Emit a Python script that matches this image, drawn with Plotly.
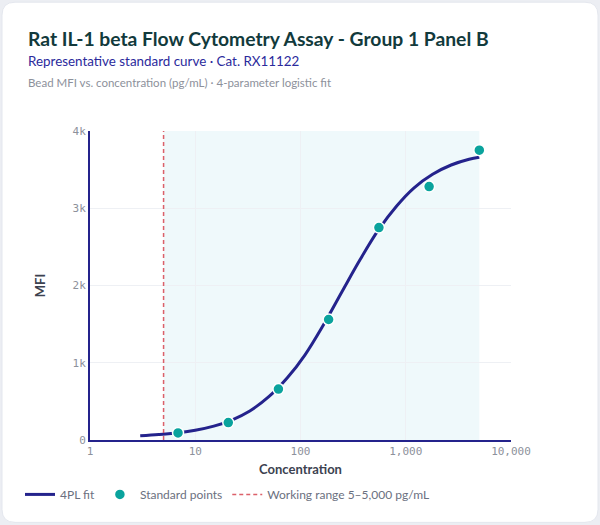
import plotly.graph_objects as go

# ---- data ----
std_conc = [6.86, 20.6, 61.7, 185, 556, 1667, 5000]
std_mfi = [92, 225, 660, 1560, 2750, 3280, 3752]

fit_conc = [3, 4.5, 7, 10, 15, 22, 33, 50, 75, 110, 165, 250, 370, 550, 820, 1200, 1800, 2700, 4000, 5000]
fit_mfi = [54, 70, 94, 126, 180, 255, 375, 560, 805, 1100, 1490, 1930, 2340, 2720, 3030, 3265, 3440, 3560, 3635, 3660]

range_low = 5
range_high = 5000

x_tickvals = [1, 10, 100, 1000, 10000]
x_ticktext = ["1", "10", "100", "1,000", "10,000"]
y_tickvals = [0, 1000, 2000, 3000, 4000]
y_ticktext = ["0", "1k", "2k", "3k", "4k"]

# ---- layout geometry ----
W, H = 600, 525
ML, MR, MT, MB = 90, 89, 131, 84.5
PW = W - ML - MR
PH = H - MT - MB


def px(xp):
    return (xp - ML) / PW


def py(yp):
    return (H - MB - yp) / PH


NAVY = "#24238c"
TEAL = "#0aa39d"
RED = "rgba(214,69,80,0.85)"

fig = go.Figure()

fig.add_trace(go.Scatter(
    x=fit_conc, y=fit_mfi, mode="lines", name="4PL fit",
    line=dict(color=NAVY, width=3, shape="spline", smoothing=1.0),
    hoverinfo="skip",
))
fig.add_trace(go.Scatter(
    x=std_conc, y=std_mfi, mode="markers", name="Standard points",
    marker=dict(color=TEAL, size=11, line=dict(color="white", width=1.5)),
))
fig.add_trace(go.Scatter(
    x=[range_low, range_low], y=[y_tickvals[0], y_tickvals[-1]], mode="lines",
    name="Working range 5\u20135,000 pg/mL",
    line=dict(color=RED, width=1.5, dash="4px,3px"),
))

# rounded card
r = 13
x0, x1, y0, y1 = 2, 598, 2, 523
rx, ry = r / PW, r / PH
X0, X1, Y0, Y1 = px(x0), px(x1), py(y1), py(y0)
path = (
    f"M {X0+rx},{Y0} L {X1-rx},{Y0} Q {X1},{Y0} {X1},{Y0+ry} "
    f"L {X1},{Y1-ry} Q {X1},{Y1} {X1-rx},{Y1} "
    f"L {X0+rx},{Y1} Q {X0},{Y1} {X0},{Y1-ry} "
    f"L {X0},{Y0+ry} Q {X0},{Y0} {X0+rx},{Y0} Z"
)
shapes = [
    dict(type="path", path=path, xref="paper", yref="paper",
         fillcolor="white", line=dict(color="#e4e7ee", width=1), layer="below"),
    dict(type="rect", xref="x", yref="paper", x0=range_low, x1=range_high,
         y0=0, y1=1, fillcolor="rgba(20,170,190,0.065)", line=dict(width=0), layer="below"),
]

annotations = [
    dict(text="<b>Rat IL-1 beta Flow Cytometry Assay - Group 1 Panel B</b>",
         x=px(26), y=py(38), xref="paper", yref="paper", xanchor="left", yanchor="middle",
         showarrow=False, font=dict(family="Lato", size=19.3, color="#123a3c")),
    dict(text="Representative standard curve \u00b7 Cat. RX11122",
         x=px(26), y=py(61), xref="paper", yref="paper", xanchor="left", yanchor="middle",
         showarrow=False, font=dict(family="Lato", size=13.4, color="#2b2a9c")),
    dict(text="Bead MFI vs. concentration (pg/mL) \u00b7 4-parameter logistic fit",
         x=px(26), y=py(82), xref="paper", yref="paper", xanchor="left", yanchor="middle",
         showarrow=False, font=dict(family="Lato", size=11.5, color="#8d919b")),
]

fig.update_layout(
    width=W, height=H,
    margin=dict(l=ML, r=MR, t=MT, b=MB),
    paper_bgcolor="#eceef3",
    plot_bgcolor="rgba(0,0,0,0)",
    shapes=shapes,
    annotations=annotations,
    showlegend=True,
    legend=dict(orientation="h", xref="paper", yref="paper",
                x=px(20), y=py(495), xanchor="left", yanchor="middle",
                font=dict(family="Lato", size=12, color="#6b7080"),
                bgcolor="rgba(0,0,0,0)", itemwidth=30, tracegroupgap=0),
    xaxis=dict(
        type="log", range=[0, 4],
        tickvals=x_tickvals, ticktext=x_ticktext,
        tickfont=dict(family="DejaVu Sans Mono", size=11, color="#8d919b"),
        showgrid=True, gridcolor="#eef0f4", gridwidth=1,
        showline=True, linecolor=NAVY, linewidth=2,
        zeroline=False, ticks="",
        title=dict(text="<b>Concentration</b>", font=dict(family="Lato", size=13, color="#3c4250"), standoff=8),
    ),
    yaxis=dict(
        range=[0, 4000],
        tickvals=y_tickvals, ticktext=y_ticktext,
        tickfont=dict(family="DejaVu Sans Mono", size=11, color="#8d919b"),
        showgrid=True, gridcolor="#eef0f4", gridwidth=1,
        showline=True, linecolor=NAVY, linewidth=2,
        zeroline=False, ticks="",
        title=dict(text="<b>MFI</b>", font=dict(family="Lato", size=13, color="#3c4250"), standoff=24),
    ),
)

fig.write_html(
    "out.html",
    config={"displayModeBar": False},
    post_script="document.body.style.margin='0';document.body.style.overflow='hidden';",
)
